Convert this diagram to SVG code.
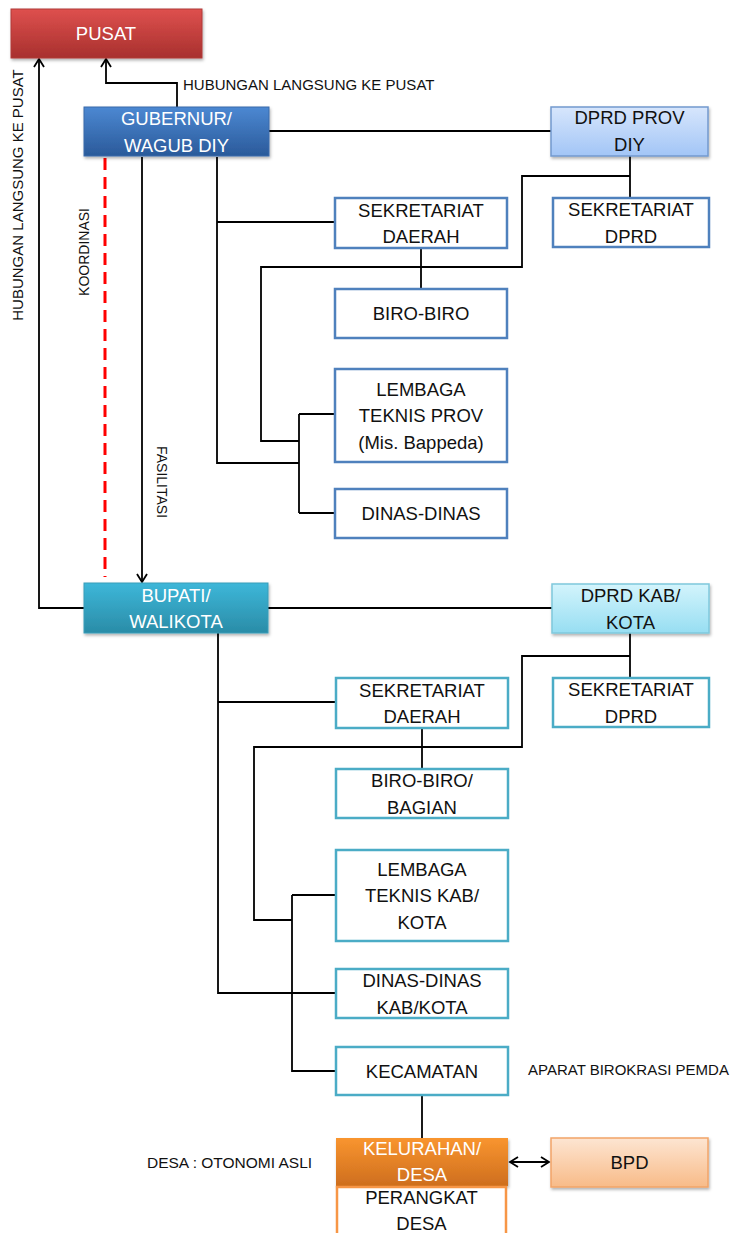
<svg xmlns="http://www.w3.org/2000/svg" width="735" height="1233" viewBox="0 0 735 1233">
<defs>
<linearGradient id="gRed" x1="0" y1="0" x2="0" y2="1"><stop offset="0" stop-color="#DE504E"/><stop offset="1" stop-color="#A8302E"/></linearGradient>
<linearGradient id="gBlue" x1="0" y1="0" x2="0" y2="1"><stop offset="0" stop-color="#4C88D2"/><stop offset="1" stop-color="#2A5A9A"/></linearGradient>
<linearGradient id="gCyan" x1="0" y1="0" x2="0" y2="1"><stop offset="0" stop-color="#3DB7D9"/><stop offset="1" stop-color="#2A8CA7"/></linearGradient>
<linearGradient id="gOrange" x1="0" y1="0" x2="0" y2="1"><stop offset="0" stop-color="#F9952F"/><stop offset="1" stop-color="#CE6E1E"/></linearGradient>
<linearGradient id="gLBlue" x1="0" y1="0" x2="0" y2="1"><stop offset="0" stop-color="#D7E6FC"/><stop offset="1" stop-color="#A2C5F6"/></linearGradient>
<linearGradient id="gLCyan" x1="0" y1="0" x2="0" y2="1"><stop offset="0" stop-color="#D3F4FC"/><stop offset="1" stop-color="#97DEF2"/></linearGradient>
<linearGradient id="gLOrange" x1="0" y1="0" x2="0" y2="1"><stop offset="0" stop-color="#FDE5D2"/><stop offset="1" stop-color="#F8BB88"/></linearGradient>
<filter id="sh" x="-10%" y="-10%" width="125%" height="140%"><feDropShadow dx="1" dy="2" stdDeviation="1.5" flood-color="#000" flood-opacity="0.3"/></filter>
<marker id="arr" markerWidth="12" markerHeight="12" refX="10" refY="6" orient="auto" markerUnits="userSpaceOnUse"><path d="M2,1 L10,6 L2,11" fill="none" stroke="#000" stroke-width="1.8"/></marker>
<marker id="arrS" markerWidth="12" markerHeight="12" refX="10" refY="6" orient="auto-start-reverse" markerUnits="userSpaceOnUse"><path d="M2,1 L10,6 L2,11" fill="none" stroke="#000" stroke-width="1.8"/></marker>
</defs>
<style>
text{font-family:"Liberation Sans",Arial,sans-serif;}
.t{font-size:18.5px;fill:#111;text-anchor:middle;}
.w{font-size:18.5px;fill:#fff;text-anchor:middle;}
.l{font-size:15px;fill:#111;}
.lr{font-size:14px;fill:#111;text-anchor:middle;dominant-baseline:central;}
.bt{fill:#fff;stroke:#4F81BD;stroke-width:2.5;}
.bb{fill:#fff;stroke:#4BACC6;stroke-width:2.5;}
.c{fill:none;stroke:#000;stroke-width:1.8;}
</style>
<rect width="735" height="1233" fill="#fff"/>
<g id="connectors">
<path class="c" d="M217 157 V463 H299"/>
<path class="c" d="M217 222 H335"/>
<path class="c" d="M421 248 V289"/>
<path class="c" d="M299 441 H261 V267 H522 V176 H630"/>
<path class="c" d="M630 156 V198"/>
<path class="c" d="M299 414 V513"/>
<path class="c" d="M299 414 H335"/>
<path class="c" d="M299 513 H335"/>
<path class="c" d="M269 131 H551"/>
<path class="c" d="M142 157 V582" marker-end="url(#arr)"/>
<path class="c" d="M177 107 V83 H106 V59" marker-end="url(#arr)"/>
<path class="c" d="M84 608 H39 V59" marker-end="url(#arr)"/>
<path d="M105 158 V577" fill="none" stroke="#FF0000" stroke-width="3" stroke-dasharray="12 7"/>
<path class="c" d="M218 633 V993 H336"/>
<path class="c" d="M218 702 H336"/>
<path class="c" d="M422 728 V769"/>
<path class="c" d="M292 920 H254 V747 H522 V656 H630"/>
<path class="c" d="M630 633 V678"/>
<path class="c" d="M292 895 V1071 H336"/>
<path class="c" d="M292 895 H336"/>
<path class="c" d="M268 608 H552"/>
<path class="c" d="M422 1095 V1138"/>
<path class="c" d="M510 1162 H549" marker-start="url(#arrS)" marker-end="url(#arr)"/>
</g>
<g id="pusat"><rect x="11" y="9" width="191" height="49" fill="url(#gRed)" stroke="#B03B38" stroke-width="1" filter="url(#sh)"/><text class="w" x="106" y="40">PUSAT</text></g>
<g id="gubernur"><rect x="84" y="107" width="185" height="49" fill="url(#gBlue)" stroke="#3A6AAA" stroke-width="1" filter="url(#sh)"/><text class="w" x="176.5" y="125">GUBERNUR/</text><text class="w" x="176.5" y="152">WAGUB DIY</text></g>
<g id="dprd-prov"><rect x="551" y="107" width="157" height="49" fill="url(#gLBlue)" stroke="#7399CE" stroke-width="1.5" filter="url(#sh)"/><text class="t" x="629.5" y="124">DPRD PROV</text><text class="t" x="629.5" y="151">DIY</text></g>
<g id="sekdprd-prov"><rect class="bt" x="553" y="198" width="156" height="49"/><text class="t" x="631" y="216">SEKRETARIAT</text><text class="t" x="631" y="242.5">DPRD</text></g>
<g id="sekda-prov"><rect class="bt" x="335" y="198" width="172" height="50"/><text class="t" x="421" y="216.5">SEKRETARIAT</text><text class="t" x="421" y="243">DAERAH</text></g>
<g id="biro-prov"><rect class="bt" x="335" y="289" width="172" height="49"/><text class="t" x="421" y="320">BIRO-BIRO</text></g>
<g id="lembaga-prov"><rect class="bt" x="335" y="369" width="172" height="93"/><text class="t" x="421" y="395.5">LEMBAGA</text><text class="t" x="421" y="422">TEKNIS PROV</text><text class="t" x="421" y="448.5">(Mis. Bappeda)</text></g>
<g id="dinas-prov"><rect class="bt" x="335" y="489" width="172" height="49"/><text class="t" x="421" y="520">DINAS-DINAS</text></g>
<g id="bupati"><rect x="84" y="583" width="184" height="50" fill="url(#gCyan)" stroke="#3A9DB9" stroke-width="1" filter="url(#sh)"/><text class="w" x="176" y="601.5">BUPATI/</text><text class="w" x="176" y="628">WALIKOTA</text></g>
<g id="dprd-kab"><rect x="552" y="584" width="157" height="49" fill="url(#gLCyan)" stroke="#7FC8DC" stroke-width="1.5" filter="url(#sh)"/><text class="t" x="630.5" y="602">DPRD KAB/</text><text class="t" x="630.5" y="628.5">KOTA</text></g>
<g id="sekdprd-kab"><rect class="bb" x="553" y="678" width="156" height="49"/><text class="t" x="631" y="696">SEKRETARIAT</text><text class="t" x="631" y="722.5">DPRD</text></g>
<g id="sekda-kab"><rect class="bb" x="336" y="678" width="172" height="50"/><text class="t" x="422" y="696.5">SEKRETARIAT</text><text class="t" x="422" y="723">DAERAH</text></g>
<g id="biro-kab"><rect class="bb" x="336" y="769" width="172" height="49"/><text class="t" x="422" y="787">BIRO-BIRO/</text><text class="t" x="422" y="813.5">BAGIAN</text></g>
<g id="lembaga-kab"><rect class="bb" x="336" y="850" width="172" height="91"/><text class="t" x="422" y="875.5">LEMBAGA</text><text class="t" x="422" y="902">TEKNIS KAB/</text><text class="t" x="422" y="928.5">KOTA</text></g>
<g id="dinas-kab"><rect class="bb" x="336" y="969" width="172" height="49"/><text class="t" x="422" y="987">DINAS-DINAS</text><text class="t" x="422" y="1013.5">KAB/KOTA</text></g>
<g id="kecamatan"><rect class="bb" x="336" y="1047" width="172" height="48"/><text class="t" x="422" y="1077.5">KECAMATAN</text></g>
<g id="kelurahan"><rect x="336" y="1138" width="172" height="48" fill="url(#gOrange)" filter="url(#sh)"/><text class="w" x="422" y="1155">KELURAHAN/</text><text class="w" x="422" y="1181">DESA</text></g>
<g id="perangkat"><rect x="337" y="1187" width="169" height="60" fill="#fff" stroke="#F79646" stroke-width="2.5"/><text class="t" x="421.5" y="1204">PERANGKAT</text><text class="t" x="421.5" y="1230">DESA</text></g>
<g id="bpd"><rect x="551" y="1138" width="157" height="49" fill="url(#gLOrange)" stroke="#F2A468" stroke-width="1.5" filter="url(#sh)"/><text class="t" x="629.5" y="1169">BPD</text></g>
<g id="labels">
<text class="l" x="183" y="90">HUBUNGAN LANGSUNG KE PUSAT</text>
<text class="lr" style="font-size:15px" transform="translate(17.5,195) rotate(-90)">HUBUNGAN LANGSUNG KE PUSAT</text>
<text class="lr" transform="translate(84,252) rotate(-90)">KOORDINASI</text>
<text class="lr" transform="translate(162,482) rotate(90)">FASILITASI</text>
<text class="l" x="528" y="1075">APARAT BIROKRASI PEMDA</text>
<text class="l" style="font-size:15.5px" x="147" y="1168">DESA : OTONOMI ASLI</text>
</g>
</svg>
